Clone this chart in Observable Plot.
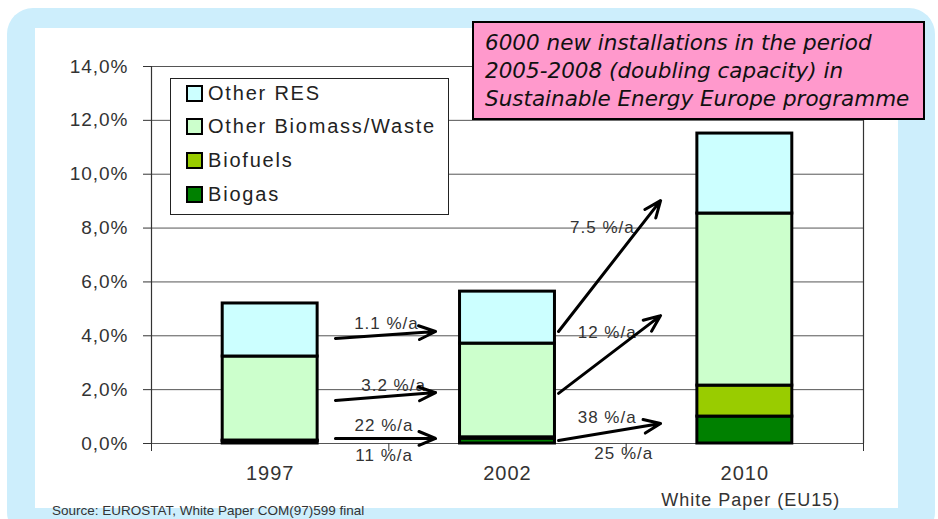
<!DOCTYPE html>
<html><head><meta charset="utf-8">
<script src="https://cdn.jsdelivr.net/npm/d3@7"></script>
<script src="https://cdn.jsdelivr.net/npm/@observablehq/plot@0.6"></script>
<style>
html,body{margin:0;padding:0;width:938px;height:519px;overflow:hidden;background:#fff;}
#wrap{position:relative;width:938px;height:519px;font-family:"Liberation Sans",Arial,sans-serif;overflow:hidden;}
#outer{position:absolute;left:7px;top:8px;width:928px;height:530px;background:#cdeefc;border-radius:26px;}
#inner{position:absolute;left:35px;top:28px;width:863px;height:480px;background:#fff;}
#chart{position:absolute;left:0;top:0;}
#chart svg{background:transparent;}
#chart svg text{letter-spacing:1px;}
#note{position:absolute;left:472px;top:21px;width:453px;height:99px;box-sizing:border-box;background:#ff99cc;border:2.5px solid #000;
  font-family:"DejaVu Sans",sans-serif;font-style:italic;font-size:21.5px;line-height:28px;padding:6px 0 0 11px;color:#111;white-space:nowrap;}
#legend{position:absolute;left:170px;top:78px;width:279px;height:137px;box-sizing:border-box;border:1.5px solid #222;background:#fff;}
.li{position:absolute;left:15px;height:24px;display:flex;align-items:center;font-size:20px;letter-spacing:1.8px;color:#222;}
.sw{width:13px;height:13px;border:2px solid #000;margin-right:5px;}
#source{position:absolute;left:52px;top:503px;font-size:13.5px;color:#333;white-space:nowrap;}
</style></head>
<body>
<div id="wrap">
  <div id="outer"></div>
  <div id="inner"></div>
  <div id="chart"></div>
  <div id="legend"></div>
  <div id="note"></div>
  <div id="source"></div>
</div>
<script>
// ---- data ----
const years = ["1997", "2002", "2010"];
const series = ["Biogas", "Biofuels", "Other Biomass/Waste", "Other RES"];
const biogas = [0.08, 0.18, 1.00];
const biofuels = [0.03, 0.05, 1.15];
const otherBiomass = [3.12, 3.48, 6.39];
const otherRES = [1.97, 1.93, 2.97];
const seriesColors = ["#008000", "#99cc00", "#ccffcc", "#ccffff"];
const yTicks = [0, 2, 4, 6, 8, 10, 12, 14];
const subLabel = "White Paper (EU15)";
const noteLines = ["6000 new installations in the period", "2005-2008 (doubling capacity) in", "Sustainable Energy Europe programme"];
const sourceText = "Source: EUROSTAT, White Paper COM(97)599 final";
// growth arrows (data units: x = year index, y = share %)
const growthLabels = ["1.1 %/a", "3.2 %/a", "22 %/a", "11 %/a", "7.5 %/a", "12 %/a", "38 %/a", "25 %/a"];
const labelX = [0.49, 0.52, 0.48, 0.48, 1.40, 1.42, 1.42, 1.49];
const labelY = [4.46, 2.16, 0.67, -0.45, 8.02, 4.12, 0.97, -0.37];
const arrowX1 = [0.275, 0.275, 0.275, 1.215, 1.215, 1.215];
const arrowY1 = [3.90, 1.60, 0.19, 4.16, 1.86, 0.11];
const arrowX2 = [0.697, 0.697, 0.697, 1.645, 1.645, 1.645];
const arrowY2 = [4.16, 1.89, 0.19, 9.02, 4.75, 0.74];

// ---- build tables ----
const values = [biogas, biofuels, otherBiomass, otherRES];
const stacked = [];
years.forEach((yr, i) => {
  let base = 0;
  values.forEach((vals, k) => {
    stacked.push({i, series: series[k], y1: base, y2: base + vals[i]});
    base += vals[i];
  });
});
const labels = growthLabels.map((t, j) => ({t, x: labelX[j], y: labelY[j]}));
const arrows = arrowX1.map((x, j) => ({x1: x, y1: arrowY1[j], x2: arrowX2[j], y2: arrowY2[j]}));
const fmt = d => d.toFixed(1).replace(".", ",") + "%";

const chart = Plot.plot({
  width: 938, height: 519,
  marginLeft: 151, marginRight: 75, marginTop: 66, marginBottom: 76,
  style: {fontFamily: "'Liberation Sans', Arial, sans-serif", color: "#333", background: "transparent"},
  x: {type: "linear", domain: [-0.5, 2.5]},
  y: {domain: [0, 14]},
  color: {domain: series, range: seriesColors},
  marks: [
    Plot.ruleY(yTicks, {x1: -0.5, x2: 2.5, stroke: "#555", strokeWidth: 1}),
    Plot.ruleX([-0.5, 2.5], {y1: 0, y2: 14, stroke: "#333", strokeWidth: 1.2}),
    Plot.axisY(yTicks, {tickSize: 8, tickPadding: 15, tickFormat: fmt, fontSize: 19, stroke: "#333"}),
    Plot.axisX([-0.5, 0.5, 1.5, 2.5], {tickSize: 8, tickFormat: () => "", stroke: "#333"}),
    Plot.axisX([0, 1, 2], {tickSize: 0, tickPadding: 22, tickFormat: i => years[i], fontSize: 20, label: null}),
    Plot.text([subLabel], {x: 2, y: 0, dx: 6, dy: 57, text: d => d, fontSize: 18, fill: "#333"}),
    Plot.rectY(stacked, {x1: d => d.i - 0.2, x2: d => d.i + 0.2, y1: "y1", y2: "y2", fill: "series", stroke: "#000", strokeWidth: 3}),
    Plot.text(labels, {x: "x", y: "y", text: "t", fontSize: 17, fill: "#333"}),
    Plot.arrow(arrows, {x1: "x1", y1: "y1", x2: "x2", y2: "y2", stroke: "#000", strokeWidth: 3, headLength: 9, headAngle: 45})
  ]
});
document.getElementById("chart").appendChild(chart);

// legend (top = last stacked series)
const legend = document.getElementById("legend");
const legendOrder = series.map((s, k) => k).reverse();
legendOrder.forEach((k, r) => {
  const row = document.createElement("div");
  row.className = "li";
  row.style.top = (2 + r * 33.7) + "px";
  const sw = document.createElement("div");
  sw.className = "sw";
  sw.style.background = seriesColors[k];
  row.appendChild(sw);
  row.appendChild(document.createTextNode(series[k]));
  legend.appendChild(row);
});
document.getElementById("note").innerHTML = noteLines.join("<br>");
document.getElementById("source").textContent = sourceText;
</script>
</body></html>
